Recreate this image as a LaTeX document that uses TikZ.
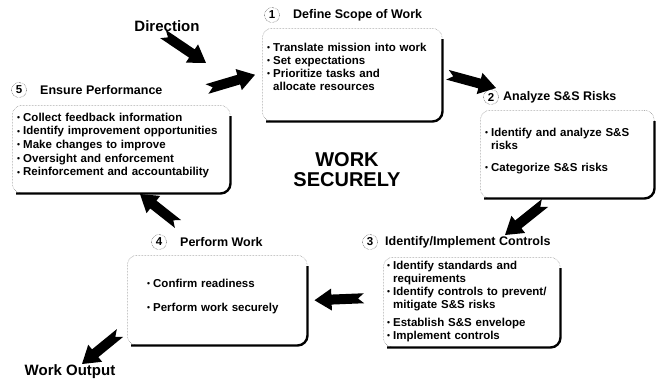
\documentclass[tikz,border=0pt]{standalone}
\usepackage{fontspec}
\setmainfont{Liberation Sans}
\usetikzlibrary{calc,positioning}

\tikzset{
    stagebox/.style={draw=black!50, densely dotted, line width=0.5pt, rounded corners=10pt, inner sep=0pt, anchor=north west},
    heavyedge/.style={line width=2.4pt, rounded corners=10pt},
    stagelist/.style={anchor=base west, inner sep=0pt, text width=#1, align=left, font=\bfseries\fontsize{11.5}{13}\selectfont},
    stagetitle/.style={anchor=west, inner sep=0pt, font=\bfseries\fontsize{12.5}{14}\selectfont},
    numcirc/.style={circle, draw, densely dotted, inner sep=0.5pt, minimum size=15pt, font=\bfseries\fontsize{11.5}{11.5}\selectfont},
    bigword/.style={font=\bfseries\fontsize{15}{17}\selectfont}
}
\newcommand{\bul}{\raisebox{0.6pt}{\fontsize{8.5}{8.5}\selectfont\textbullet}\hspace{3pt}}
\newcommand{\nob}{\phantom{\bul}}
\newcommand{\heavy}[1]{\draw[heavyedge] ([yshift=-11pt]#1.north east) -- (#1.south east) -- ([xshift=4pt]#1.south west);}
\newcommand{\fatarrow}[2]{%
    \fill let \p1=($(#2)-(#1)$), \n1={atan2(\y1,\x1)}, \n2={veclen(\x1,\y1)} in
        [shift={(#1)}, rotate=\n1]
        (0,-5) -- ({\n2-17},-5) -- ({\n2-17},-11) -- (\n2,0) -- ({\n2-17},11) -- ({\n2-17},5) -- (0,5) -- (6,0) -- cycle;}

\begin{document}
\begin{tikzpicture}[x=1pt, y=-1pt]
    \useasboundingbox (0,0) rectangle (657,384);

    % the five stages
    \node[stagebox, minimum width=180pt, minimum height=93pt] (box1) at (262,28) {};
    \node[stagebox, minimum width=174pt, minimum height=88pt] (box2) at (480,110) {};
    \node[stagebox, minimum width=177pt, minimum height=90pt] (box3) at (383,257) {};
    \node[stagebox, minimum width=180pt, minimum height=90pt] (box4) at (127,255) {};
    \node[stagebox, minimum width=218pt, minimum height=88pt] (box5) at (12,105) {};
    \foreach \b in {box1,box2,box3,box4,box5} {\heavy{\b}}

    \node[numcirc] (n1) at (272,15) {1};
    \node[stagetitle] (t1) at (293,15) {Define Scope of Work};
    \node[numcirc] (n2) at (491,97) {2};
    \node[stagetitle] (t2) at (503,97) {Analyze S\&S Risks};
    \node[numcirc] (n3) at (370,242) {3};
    \node[stagetitle] (t3) at (385,242) {Identify/Implement Controls};
    \node[numcirc] (n4) at (159,242) {4};
    \node[stagetitle] (t4) at (180,242) {Perform Work};
    \node[numcirc] (n5) at (19,90) {5};
    \node[stagetitle] (t5) at (40,90) {Ensure Performance};

    \node[stagelist=172pt] (l1) at (267,51) {\bul Translate mission into work\\ \bul Set expectations\\ \bul Prioritize tasks and\\ \nob allocate resources};
    \node[stagelist=168pt] (l2) at (485,136) {\bul Identify and analyze S\&S\\ \nob risks\\[9pt] \bul Categorize S\&S risks};
    \node[stagelist=170pt] (l3) at (387,269) {\bul Identify standards and\\ \nob requirements\\ \bul Identify controls to prevent/\\ \nob mitigate S\&S risks\\[5pt] \bul Establish S\&S envelope\\ \bul Implement controls};
    \node[stagelist=170pt] (l4) at (147,287) {\bul Confirm readiness\\[11pt] \bul Perform work securely};
    \node[stagelist=210pt] (l5) at (17,121) {\bul Collect feedback information\\[0.7pt] \bul Identify improvement opportunities\\[0.7pt] \bul Make changes to improve\\[0.7pt] \bul Oversight and enforcement\\[0.7pt] \bul Reinforcement and accountability};

    \node[font=\bfseries\fontsize{20}{20}\selectfont, align=center] (ws) at (347,170) {WORK\\SECURELY};
    \node[bigword] (dir) at (167,26) {Direction};
    \node[bigword] (out) at (70,372) {Work Output};

    % block arrows
    \coordinate (a0s) at (163,34);
    \coordinate (a0e) at (206,63);
    \coordinate (a1s) at (207,89);
    \coordinate (a1e) at ([xshift=-7pt]box1.west);
    \coordinate (a2s) at ([xshift=5pt]box1.east);
    \coordinate (a2e) at (496,88);
    \coordinate (a3s) at (545,203);
    \coordinate (a3e) at (505,235);
    \coordinate (a4s) at ([xshift=-19pt,yshift=4pt]box3.west);
    \coordinate (a4e) at ([xshift=7pt]box4.east);
    \coordinate (a5s) at (178,224);
    \coordinate (a5e) at (140,194);
    \coordinate (a6s) at (120,333);
    \coordinate (a6e) at (82,364);
    \fatarrow{a0s}{a0e}
    \fatarrow{a1s}{a1e}
    \fatarrow{a2s}{a2e}
    \fatarrow{a3s}{a3e}
    \fatarrow{a4s}{a4e}
    \fatarrow{a5s}{a5e}
    \fatarrow{a6s}{a6e}
\end{tikzpicture}
\end{document}
